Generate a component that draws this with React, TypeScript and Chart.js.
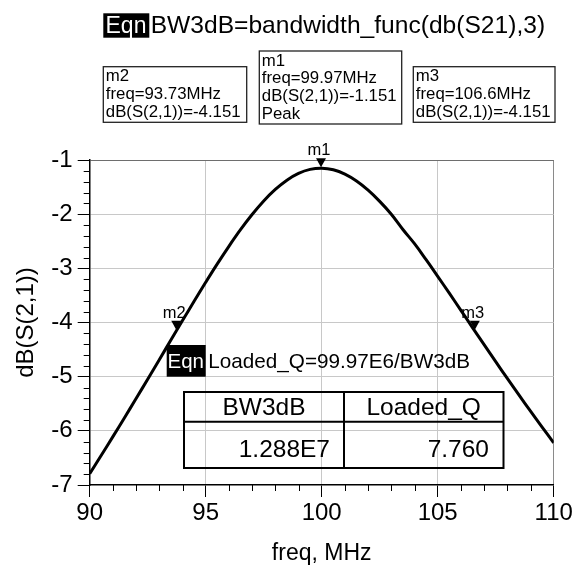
import React, { useEffect, useRef } from "react";
import { Chart, registerables } from "chart.js";

Chart.register(...registerables);

const FONT = "'Liberation Sans', Arial, Helvetica, sans-serif";

// frequency sweep (MHz) and S21 magnitude (dB)
const freqMHz = [
  90, 90.5, 91, 91.5, 92, 92.5, 93, 93.5, 94, 94.5, 95, 95.5, 96, 96.5, 97, 97.5,
  98, 98.5, 99, 99.5, 100, 100.5, 101, 101.5, 102, 102.5, 103, 103.5, 104, 104.5,
  105, 105.5, 106, 106.5, 107, 107.5, 108, 108.5, 109, 109.5, 110,
];
const s21dB = [
  -6.79, -6.452, -6.107, -5.758, -5.404, -5.046, -4.686, -4.325, -3.964, -3.608,
  -3.258, -2.918, -2.593, -2.287, -2.007, -1.756, -1.543, -1.372, -1.247, -1.173,
  -1.151, -1.181, -1.262, -1.389, -1.558, -1.764, -2.001, -2.283, -2.545, -2.84,
  -3.147, -3.459, -3.775, -4.093, -4.409, -4.723, -5.033, -5.338, -5.638, -5.932,
  -6.22,
];

const xMin = 90;
const xMax = 110;
const xStep = 5;
const xMinorStep = 1;
const yMin = -7;
const yMax = -1;
const yStep = 1;
const yMinorStep = 0.2;

// markers
const markerNames = ["m1", "m2", "m3"];
const markerFreq = [99.97, 93.73, 106.6];
const markerDB = [-1.151, -4.151, -4.151];
const markerReadouts = [
  ["m1", "freq=99.97MHz", "dB(S(2,1))=-1.151", "Peak"],
  ["m2", "freq=93.73MHz", "dB(S(2,1))=-4.151"],
  ["m3", "freq=106.6MHz", "dB(S(2,1))=-4.151"],
];

// equations and table
const eqnTag = "Eqn";
const eqnBandwidth = "BW3dB=bandwidth_func(db(S21),3)";
const eqnLoadedQ = "Loaded_Q=99.97E6/BW3dB";
const tableHeaders = ["BW3dB", "Loaded_Q"];
const tableValues = ["1.288E7", "7.760"];

const xTitle = "freq, MHz";
const yTitle = "dB(S(2,1))";

const overlayPlugin = {
  id: "adsOverlay",
  afterDraw(chart: any) {
    const ctx: CanvasRenderingContext2D = chart.ctx;
    const xs = chart.scales.x;
    const ys = chart.scales.y;
    const area = chart.chartArea;
    ctx.save();

    // minor ticks
    ctx.strokeStyle = "#000";
    ctx.lineWidth = 1;
    ctx.beginPath();
    for (let v = yMin; v <= yMax + 1e-9; v += yMinorStep) {
      const r = Math.round(v * 1000) / 1000;
      if (Math.abs(r - Math.round(r)) < 1e-6) continue;
      const py = Math.round(ys.getPixelForValue(r)) + 0.5;
      ctx.moveTo(area.left - 6, py);
      ctx.lineTo(area.left, py);
    }
    for (let v = xMin; v <= xMax + 1e-9; v += xMinorStep) {
      if (v % xStep === 0) continue;
      const px = Math.round(xs.getPixelForValue(v)) + 0.5;
      ctx.moveTo(px, area.bottom);
      ctx.lineTo(px, area.bottom + 6);
    }
    ctx.stroke();

    // markers
    ctx.fillStyle = "#000";
    for (let i = 0; i < markerNames.length; i++) {
      const px = xs.getPixelForValue(markerFreq[i]);
      const py = ys.getPixelForValue(markerDB[i]);
      ctx.beginPath();
      ctx.moveTo(px, py - 1);
      ctx.lineTo(px - 5, py - 10);
      ctx.lineTo(px + 5, py - 10);
      ctx.closePath();
      ctx.fill();
      ctx.font = `16.5px ${FONT}`;
      ctx.textAlign = "center";
      ctx.textBaseline = "alphabetic";
      ctx.fillText(markerNames[i], px - 2, py - 13);
    }

    // equation 1
    ctx.textAlign = "left";
    ctx.fillStyle = "#000";
    ctx.fillRect(103.3, 13.3, 46, 24.4);
    ctx.fillStyle = "#fff";
    ctx.font = `23px ${FONT}`;
    ctx.fillText(eqnTag, 105.5, 33.3);
    ctx.fillStyle = "#000";
    ctx.font = `24.6px ${FONT}`;
    ctx.fillText(eqnBandwidth, 150.7, 33.3);

    // marker readout boxes
    const boxes = [
      { x: 259.3, y: 51, w: 142.4, h: 73 },
      { x: 103.3, y: 66.7, w: 143.4, h: 55.6 },
      { x: 413.3, y: 66.7, w: 141.7, h: 55.6 },
    ];
    ctx.strokeStyle = "#222";
    ctx.lineWidth = 1.3;
    ctx.font = `16.8px ${FONT}`;
    for (let i = 0; i < boxes.length; i++) {
      const b = boxes[i];
      ctx.strokeRect(b.x, b.y, b.w, b.h);
      markerReadouts[i].forEach((line, j) => {
        ctx.fillText(line, b.x + 2.5, b.y + 14.5 + j * 17.9);
      });
    }

    // equation 2
    ctx.fillStyle = "#000";
    ctx.fillRect(166.7, 345, 39, 31.7);
    ctx.fillStyle = "#fff";
    ctx.font = `20.5px ${FONT}`;
    ctx.fillText(eqnTag, 167.5, 368.3);
    ctx.fillStyle = "#000";
    ctx.font = `20.7px ${FONT}`;
    ctx.fillText(eqnLoadedQ, 208.3, 368.3);

    // table
    ctx.strokeStyle = "#000";
    ctx.lineWidth = 2;
    ctx.strokeRect(184, 392, 319.5, 76);
    ctx.beginPath();
    ctx.moveTo(184, 421.7);
    ctx.lineTo(503.5, 421.7);
    ctx.moveTo(344, 392);
    ctx.lineTo(344, 468);
    ctx.stroke();
    ctx.font = `24.5px ${FONT}`;
    ctx.textAlign = "center";
    ctx.fillText(tableHeaders[0], 264, 415);
    ctx.fillText(tableHeaders[1], 423.7, 415);
    ctx.textAlign = "right";
    ctx.fillText(tableValues[0], 330, 456.7);
    ctx.fillText(tableValues[1], 489, 456.7);

    ctx.restore();
  },
};

export default function App() {
  const ref = useRef<HTMLCanvasElement | null>(null);

  useEffect(() => {
    if (!ref.current) return;
    const chart = new Chart(ref.current, {
      type: "line",
      data: {
        datasets: [
          {
            data: freqMHz.map((f, i) => ({ x: f, y: s21dB[i] })),
            borderColor: "#000",
            borderWidth: 3,
            pointRadius: 0,
            tension: 0.4,
            fill: false,
          },
        ],
      },
      options: {
        animation: false,
        responsive: false,
        devicePixelRatio: 1,
        layout: { padding: { left: 0, top: 160, right: 21.3, bottom: 0 } },
        plugins: {
          legend: { display: false },
          tooltip: { enabled: false },
        },
        scales: {
          x: {
            type: "linear",
            min: xMin,
            max: xMax,
            afterFit: (s: any) => {
              s.height = 82;
            },
            ticks: {
              stepSize: xStep,
              color: "#000",
              padding: 2,
              font: { family: FONT, size: 24 },
              maxRotation: 0,
            },
            grid: {
              color: (c: any) =>
                c.tick && c.tick.value === xMin
                  ? "rgba(0,0,0,0)"
                  : c.tick && c.tick.value === xMax
                  ? "#8a8a8a"
                  : "#c8c8c8",
              tickColor: "#000",
              tickLength: 12,
              lineWidth: 1,
            },
            border: { display: true, color: "#000", width: 1.5 },
            title: {
              display: true,
              text: xTitle,
              color: "#000",
              font: { family: FONT, size: 23 },
              padding: { top: 0.5, bottom: 0 },
            },
          },
          y: {
            type: "linear",
            min: yMin,
            max: yMax,
            afterFit: (s: any) => {
              s.width = 89.7;
            },
            ticks: {
              stepSize: yStep,
              color: "#000",
              padding: 5,
              font: { family: FONT, size: 24 },
            },
            grid: {
              color: (c: any) =>
                c.tick && c.tick.value === yMin
                  ? "rgba(0,0,0,0)"
                  : c.tick && c.tick.value === yMax
                  ? "#6e6e6e"
                  : "#c8c8c8",
              tickColor: "#000",
              tickLength: 12,
              lineWidth: 1,
            },
            border: { display: true, color: "#000", width: 1.5 },
            title: {
              display: true,
              text: yTitle,
              color: "#000",
              font: { family: FONT, size: 24 },
              padding: { top: 12.3, bottom: 0 },
            },
          },
        },
      },
      plugins: [overlayPlugin],
    });
    return () => chart.destroy();
  }, []);

  return (
    <div style={{ position: "absolute", left: 0, top: 0, width: 575, height: 567, background: "#fff" }}>
      <canvas ref={ref} width={575} height={567} style={{ width: 575, height: 567, display: "block" }} />
    </div>
  );
}
